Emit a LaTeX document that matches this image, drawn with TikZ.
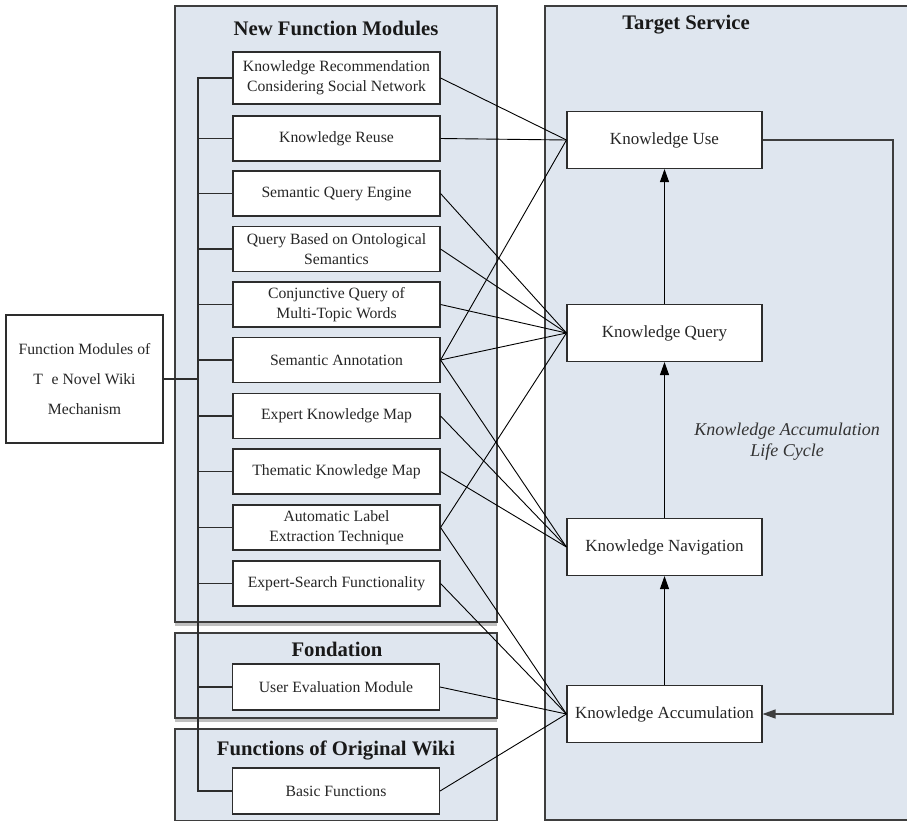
\documentclass[tikz,border=0pt]{standalone}
\usepackage{fontspec}
\setmainfont{Liberation Serif}
\usetikzlibrary{arrows.meta}

\definecolor{panelfill}{RGB}{223,230,239}
\definecolor{panelline}{RGB}{62,62,62}
\definecolor{boxline}{RGB}{45,45,45}
\definecolor{shadowgray}{RGB}{192,192,192}

\tikzset{
  panel/.style={draw=panelline, fill=panelfill, line width=1.3pt},
  panelshadow/.style={fill=shadowgray, draw=none},
  boxbase/.style={draw=boxline, fill=white, line width=1.1pt, inner sep=0pt,
    align=center, text=black!85},
  lbox/.style={boxbase, minimum width=207pt, minimum height=45pt,
    font=\fontsize{15.7}{20}\selectfont},
  tbox/.style={boxbase, minimum width=195pt, minimum height=57pt,
    font=\fontsize{17}{20}\selectfont},
  ptitle/.style={font=\fontsize{20.7}{24}\selectfont\bfseries, text=black!90},
  tree/.style={draw=boxline, line width=1.1pt},
  conn/.style={draw=black, line width=0.9pt},
  flow/.style={draw=black, line width=1pt, -{Triangle[width=9pt,length=13pt]}},
  loopline/.style={draw=panelline, line width=1.2pt, -{Triangle[width=9pt,length=13pt]}},
}

\begin{document}
\begin{tikzpicture}[x=1pt, y=-1pt]
\useasboundingbox (0,0) rectangle (907,822);
\clip (0,0) rectangle (907,822);

% ---- group panels ----
\fill[panelshadow] (175,620) rectangle (497,626);
\draw[panel] (175,6) rectangle (497,622);
\fill[panelshadow] (175,716) rectangle (497,722);
\draw[panel] (175,633) rectangle (497,718);
\draw[panel] (175,729) rectangle (497,820.5);
\draw[panel] (545,6) rectangle (915,820);

\node[ptitle] (tNew) at (336,28) {New Function Modules};
\node[ptitle] (tTarget) at (686,25) {Target Service};
\node[ptitle] (tFond) at (337,649) {Fondation};
\node[ptitle] (tOrig) at (336,750) {Functions of Original Wiki};

% ---- root box ----
\node[boxbase, minimum width=157pt, minimum height=128pt,
      font=\fontsize{15.7}{30}\selectfont] (root) at (84.5,379)
      {Function Modules of\\T\hspace{0.55em}e Novel Wiki\\Mechanism};

% ---- function modules ----
\node[lbox, minimum height=52pt] (m1) at (336.5,78)
      {Knowledge Recommendation\\Considering Social Network};
\node[lbox] (m2) at (336.5,138.5) {Knowledge Reuse};
\node[lbox] (m3) at (336.5,193.5) {Semantic Query Engine};
\node[lbox] (m4) at (336.5,249) {Query Based on Ontological\\Semantics};
\node[lbox] (m5) at (336.5,304.5) {Conjunctive Query of\\Multi-Topic Words};
\node[lbox] (m6) at (336.5,360) {Semantic Annotation};
\node[lbox] (m7) at (336.5,416) {Expert Knowledge Map};
\node[lbox] (m8) at (336.5,471.5) {Thematic Knowledge Map};
\node[lbox] (m9) at (336.5,527.5) {Automatic Label\\Extraction Technique};
\node[lbox] (m10) at (336.5,583.5) {Expert-Search Functionality};
\node[lbox, minimum height=46pt] (uem) at (336,687) {User Evaluation Module};
\node[lbox, minimum height=46pt] (basic) at (336,791) {Basic Functions};

% ---- target services ----
\node[tbox] (use) at (664.5,140) {Knowledge Use};
\node[tbox] (query) at (664.5,333) {Knowledge Query};
\node[tbox] (nav) at (664.5,547) {Knowledge Navigation};
\node[tbox] (acc) at (664.5,714) {Knowledge Accumulation};

\node[font=\fontsize{18}{21}\selectfont\itshape, align=center, text=black!80]
      (cycle) at (787,442) {Knowledge Accumulation\\Life Cycle};

% ---- tree from the root box ----
\coordinate (trunkTop) at (198,78);
\coordinate (trunkBot) at (198,791);
\draw[tree] (m1.west) -- (trunkTop) -- (trunkBot) -- (basic.west);
\foreach \n in {m2,m3,m4,m5,m6,m7,m8,m9,m10,uem}
  \draw[tree] (\n.west) -- (\n.west -| trunkTop);
\draw[tree] (root.east) -- (root.east -| trunkTop);

% ---- module to service links ----
\foreach \n in {m1,m2,m6} \draw[conn] (\n.east) -- (use.west);
\foreach \n in {m3,m4,m5,m6,m9} \draw[conn] (\n.east) -- (query.west);
\foreach \n in {m6,m7,m8} \draw[conn] (\n.east) -- (nav.west);
\foreach \n in {m9,m10,uem,basic} \draw[conn] (\n.east) -- (acc.west);

% ---- life cycle ----
\draw[flow] (acc.north) -- (nav.south);
\draw[flow] (nav.north) -- (query.south);
\draw[flow] (query.north) -- (use.south);
\coordinate (loopTop) at (893,140);
\coordinate (loopBot) at (893,714);
\draw[loopline] (use.east) -- (loopTop) -- (loopBot) -- (acc.east);
\end{tikzpicture}
\end{document}
